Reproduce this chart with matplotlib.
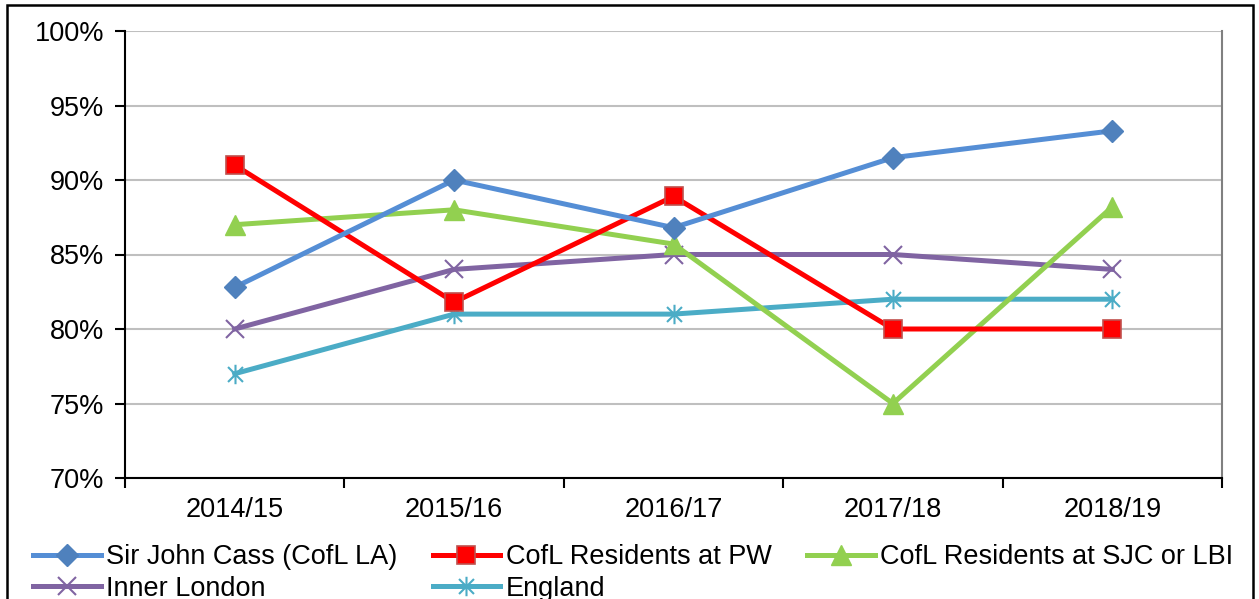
import matplotlib.pyplot as plt
import numpy as np
from matplotlib.patches import Rectangle
from matplotlib.path import Path
from matplotlib.ticker import FuncFormatter, MultipleLocator

plt.rcParams["font.family"] = ["Liberation Sans", "DejaVu Sans"]

# ----------- data -------------------
years = ["2014/15", "2015/16", "2016/17", "2017/18", "2018/19"]
sir_john_cass = [82.8, 90.0, 86.8, 91.5, 93.3]
residents_pw = [91.0, 81.8, 88.9, 80.0, 80.0]
residents_sjc_lbi = [87.0, 88.0, 85.7, 75.0, 88.2]
inner_london = [80.0, 84.0, 85.0, 85.0, 84.0]
england = [77.0, 81.0, 81.0, 82.0, 82.0]

# excel style "star" marker: x with a vertical bar
star = Path(
    [(-1, -1), (1, 1), (-1, 1), (1, -1), (0, -1.3), (0, 1.3)],
    [Path.MOVETO, Path.LINETO, Path.MOVETO, Path.LINETO, Path.MOVETO, Path.LINETO],
)

fig = plt.figure(figsize=(12.59, 5.99), dpi=100)
ax = fig.add_axes([125 / 1259, 1 - 478 / 599, (1222 - 125) / 1259, (478 - 31) / 599])

x = np.arange(len(years))
lw = 3.6
l_sjc, = ax.plot(x, sir_john_cass, color="#558ED5", lw=lw, marker="D", ms=11,
                 mfc="#4F81BD", mec="#4F81BD", label="Sir John Cass (CofL LA)", zorder=5)
l_pw, = ax.plot(x, residents_pw, color="#FF0000", lw=lw, marker="s", ms=13,
                mfc="#FF0000", mec="#C0504D", mew=1.2, label="CofL Residents at PW", zorder=4)
l_lbi, = ax.plot(x, residents_sjc_lbi, color="#92D050", lw=lw, marker="^", ms=14,
                 mfc="#92D050", mec="#92D050", label="CofL Residents at SJC or LBI", zorder=3)
l_il, = ax.plot(x, inner_london, color="#8064A2", lw=lw, marker="x", ms=13, mew=1.5,
                mec="#8064A2", label="Inner London", zorder=2)
l_eng, = ax.plot(x, england, color="#4BACC6", lw=lw, marker=star, ms=14, mew=1.5,
                 mfc="none", mec="#4BACC6", label="England", zorder=1)

ax.set_xlim(-0.5, len(years) - 0.5)
ax.set_ylim(70, 100)
ax.yaxis.set_major_locator(MultipleLocator(5))
ax.yaxis.set_major_formatter(FuncFormatter(lambda v, p: f"{v:.0f}%"))
ax.set_xticks(x)
ax.set_xticklabels(years)
ax.set_xticks(np.arange(-0.5, len(years)), minor=True)
ax.tick_params(axis="x", which="major", length=0, pad=14, labelsize=19.5)
ax.tick_params(axis="x", which="minor", length=7, width=1.5, direction="out")
ax.tick_params(axis="y", length=7, width=1.5, direction="out", pad=8, labelsize=19.5)
ax.grid(axis="y", color="#BFBFBF", lw=1.5)
ax.set_axisbelow(True)
for side in ["left", "bottom"]:
    ax.spines[side].set_linewidth(1.5)
    ax.spines[side].set_color("black")
ax.spines["top"].set_visible(False)
ax.spines["right"].set_color("#808080")
ax.spines["right"].set_linewidth(1.5)

# column-major order so the rows read like the excel legend
handles = [l_sjc, l_il, l_pw, l_eng, l_lbi]
fig.legend(handles=handles, labels=[h.get_label() for h in handles],
           loc="upper left", bbox_to_anchor=(33 / 1259, 1 - 544 / 599), ncol=3,
           frameon=False, fontsize=19.5, handlelength=2.5, handletextpad=0.2,
           columnspacing=1.3, labelspacing=0.22, borderpad=0, borderaxespad=0)

# outer chart border, runs off the bottom like the source
fig.patches.append(Rectangle((7 / 1259, -0.1), (1253 - 7) / 1259, 1.1 - 5 / 599,
                             transform=fig.transFigure, fill=False,
                             edgecolor="black", lw=1.8))

fig.savefig("out.png", dpi=100)
